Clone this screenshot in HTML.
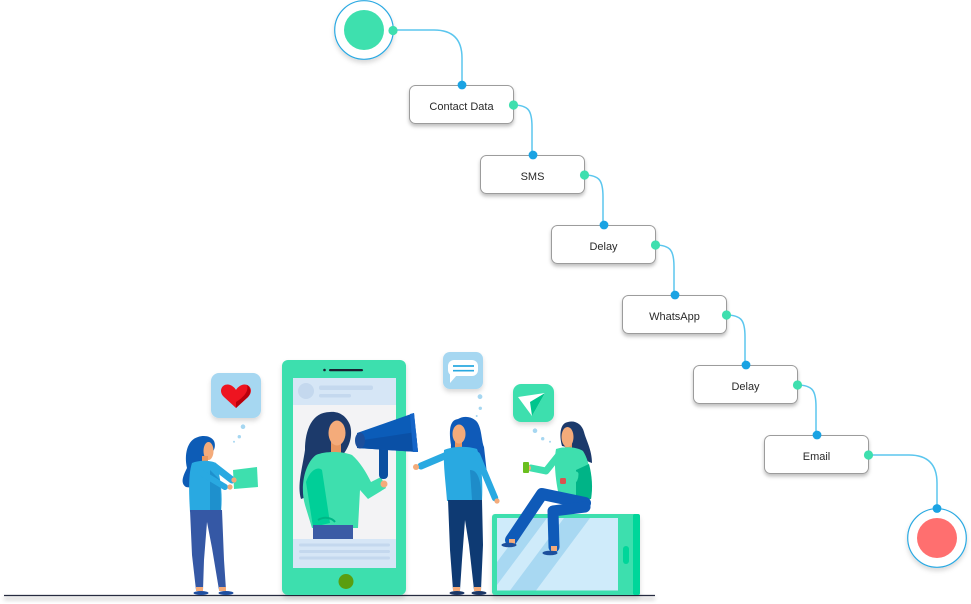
<!DOCTYPE html>
<html><head><meta charset="utf-8"><style>
html,body{margin:0;padding:0;background:#fff;}
svg{display:block;}
text{font-family:"Liberation Sans","DejaVu Sans",sans-serif;}
</style></head><body>
<svg width="971" height="604" viewBox="0 0 971 604" xmlns="http://www.w3.org/2000/svg">
<defs>
<filter id="sh" x="-30%" y="-30%" width="160%" height="180%">
<feDropShadow dx="0" dy="2.5" stdDeviation="1.8" flood-color="#000" flood-opacity="0.25"/>
</filter>
<filter id="sh2" x="-30%" y="-30%" width="160%" height="160%">
<feDropShadow dx="0" dy="3" stdDeviation="2.5" flood-color="#000" flood-opacity="0.15"/>
</filter>
<filter id="gblur" x="-5%" y="-200%" width="110%" height="500%">
<feGaussianBlur stdDeviation="2"/>
</filter>
</defs>

<!-- connectors -->
<g fill="none" stroke="#5BC6EE" stroke-width="1.5">
<path d="M393,30 H434 Q462,30 462,58 V85"/>
<path d="M513,105 C529,105 532,111 532,127 V155"/>
<path d="M584,175 C600,175 603,181 603,197 V225"/>
<path d="M655,245 C671,245 674,251 674,267 V295"/>
<path d="M726,315 C742,315 745,321 745,337 V365"/>
<path d="M797,385 C813,385 816,391 816,407 V435"/>
<path d="M868,455 H909 Q937,455 937,483 V508"/>
</g>

<!-- start circle -->
<circle cx="364" cy="30" r="29.3" fill="#fff" stroke="#2AA9E2" stroke-width="1.2" filter="url(#sh2)"/>
<circle cx="364" cy="30" r="20" fill="#3EE0AE"/>
<circle cx="393" cy="30.5" r="4.6" fill="#3EDFAE"/>

<!-- end circle -->
<circle cx="937" cy="538" r="29.3" fill="#fff" stroke="#2AA9E2" stroke-width="1.2" filter="url(#sh2)"/>
<circle cx="937" cy="538" r="20" fill="#FF6F6F"/>
<circle cx="937" cy="508.5" r="4.4" fill="#1AA3E3"/>

<!-- nodes -->
<g>
<rect x="409.5" y="85.5" width="104" height="38" rx="6" fill="#fff" stroke="#9c9c9c" stroke-width="1" filter="url(#sh)"/>
<text x="461.5" y="110" font-size="11" fill="#2a2a2a" text-anchor="middle">Contact Data</text>
<circle cx="462" cy="85" r="4.4" fill="#1AA3E3"/><circle cx="513.5" cy="105" r="4.6" fill="#3EDFAE"/>

<rect x="480.5" y="155.5" width="104" height="38" rx="6" fill="#fff" stroke="#9c9c9c" stroke-width="1" filter="url(#sh)"/>
<text x="532.5" y="180" font-size="11" fill="#2a2a2a" text-anchor="middle">SMS</text>
<circle cx="533" cy="155" r="4.4" fill="#1AA3E3"/><circle cx="584.5" cy="175" r="4.6" fill="#3EDFAE"/>

<rect x="551.5" y="225.5" width="104" height="38" rx="6" fill="#fff" stroke="#9c9c9c" stroke-width="1" filter="url(#sh)"/>
<text x="603.5" y="250" font-size="11" fill="#2a2a2a" text-anchor="middle">Delay</text>
<circle cx="604" cy="225" r="4.4" fill="#1AA3E3"/><circle cx="655.5" cy="245" r="4.6" fill="#3EDFAE"/>

<rect x="622.5" y="295.5" width="104" height="38" rx="6" fill="#fff" stroke="#9c9c9c" stroke-width="1" filter="url(#sh)"/>
<text x="674.5" y="320" font-size="11" fill="#2a2a2a" text-anchor="middle">WhatsApp</text>
<circle cx="675" cy="295" r="4.4" fill="#1AA3E3"/><circle cx="726.5" cy="315" r="4.6" fill="#3EDFAE"/>

<rect x="693.5" y="365.5" width="104" height="38" rx="6" fill="#fff" stroke="#9c9c9c" stroke-width="1" filter="url(#sh)"/>
<text x="745.5" y="390" font-size="11" fill="#2a2a2a" text-anchor="middle">Delay</text>
<circle cx="746" cy="365" r="4.4" fill="#1AA3E3"/><circle cx="797.5" cy="385" r="4.6" fill="#3EDFAE"/>

<rect x="764.5" y="435.5" width="104" height="38" rx="6" fill="#fff" stroke="#9c9c9c" stroke-width="1" filter="url(#sh)"/>
<text x="816.5" y="460" font-size="11" fill="#2a2a2a" text-anchor="middle">Email</text>
<circle cx="817" cy="435" r="4.4" fill="#1AA3E3"/><circle cx="868.5" cy="455" r="4.6" fill="#3EDFAE"/>
</g>

<!-- ground -->
<rect x="4" y="597" width="651" height="3" fill="#000" opacity="0.18" filter="url(#gblur)"/>
<line x1="4" y1="595.5" x2="655" y2="595.5" stroke="#262b40" stroke-width="1.2"/>

<!-- phone -->
<rect x="282" y="360" width="124" height="235" rx="6" fill="#3EDFAE" filter="url(#sh2)"/>
<rect x="293" y="378" width="103" height="190" fill="#F3F3F5"/>
<rect x="293" y="378" width="103" height="27" fill="#D6E6F6"/>
<circle cx="306" cy="391" r="8" fill="#C4D8EE"/>
<rect x="319" y="385.5" width="54" height="4.5" rx="2" fill="#C4D8EE"/>
<rect x="319" y="394" width="32" height="3.5" rx="1.7" fill="#C4D8EE"/>
<rect x="293" y="539" width="103" height="29" fill="#D6E6F6"/>
<rect x="299" y="543.5" width="91" height="3" rx="1.5" fill="#C4D8EE"/>
<rect x="299" y="550" width="91" height="3" rx="1.5" fill="#C4D8EE"/>
<rect x="299" y="556.5" width="91" height="3" rx="1.5" fill="#C4D8EE"/>
<circle cx="324.5" cy="370" r="1.3" fill="#1a2030"/>
<rect x="329" y="369" width="34" height="2.2" rx="1.1" fill="#1a2030"/>
<circle cx="346" cy="581.5" r="7.5" fill="#5A9E10"/>

<!-- megaphone woman -->
<path d="M330,412 C312,412 305,430 305,450 C302,470 297,485 301,499 L314,494 L340,458 C350,448 353,435 350,425 C346,415 338,411 330,412 Z" fill="#1C3A6B"/>
<rect x="331" y="442" width="10" height="14" fill="#E8965F"/>
<ellipse cx="337" cy="433" rx="8.5" ry="12.5" fill="#F4AB7A"/>
<path d="M316,455 C325,451 342,451 352,455 C360,462 366,472 371,482 L381,477 L386,488 L368,499 L360,490 L358,528 L312,528 L305,505 C300,488 304,464 316,455 Z" fill="#3EDFAE"/>
<path d="M306,482 C310,470 318,466 322,470 L330,523 L313,527 Z" fill="#00CF98"/>
<path d="M318,520 C325,516 332,518 335,522" stroke="#00B686" stroke-width="2" fill="none"/>
<rect x="313" y="525" width="40" height="14" fill="#3B5BA5"/>
<circle cx="384" cy="484" r="3.5" fill="#F4AB7A"/>
<rect x="379" y="444" width="9" height="35" rx="4" fill="#0B4FA0"/>
<polygon points="357,433 414,413 418,452 357,448" fill="#0B5CB8"/>
<polygon points="357,441 416,432 418,452 357,448" fill="#0A50A6"/>
<ellipse cx="360" cy="440.5" rx="5" ry="8" fill="#1C4F9C"/>
<polygon points="410,414 414,413 418,452 413,452" fill="#1565C8"/>

<!-- heart bubble -->
<rect x="211" y="373" width="50" height="45" rx="8" fill="#A6D7F1" filter="url(#sh2)"/>
<path d="M236,408 L224,397 C218,391 222,384 228,384.5 C232,385 235,388 236,390 C237,388 240,385 244,384.5 C250,384 254,391 248,397 Z" fill="#EE1420"/>
<path d="M236,408 L248,397 C252,392 250,387 247,385 C249,391 244,397 236,402 Z" fill="#B8000C"/>
<circle cx="243" cy="426.7" r="2.3" fill="#A6D7F1"/>
<circle cx="239.3" cy="436.7" r="1.7" fill="#A6D7F1"/>
<circle cx="234" cy="441.7" r="1" fill="#A6D7F1"/>

<!-- left woman -->
<path d="M198,437 C187,440 184,455 187,468 C183,476 180,483 186,487 C195,489 201,481 205,476 L206,458 C212,455 217,448 214,441 C211,436 204,435 198,437 Z" fill="#0D5CB6"/>
<ellipse cx="208.5" cy="451" rx="5" ry="9" fill="#F4AB7A"/>
<rect x="202" y="456" width="6" height="8" fill="#E8965F"/>
<path d="M192,463 C199,460 210,460 216,463 C220,475 223,492 221,512 L190,512 C189,495 188,475 192,463 Z" fill="#29A9E1"/>
<path d="M210,470 L220,480 L221,512 L210,512 Z" fill="#1E90CD"/>
<path d="M214,466 L232,480" stroke="#29A9E1" stroke-width="7" stroke-linecap="round"/>
<path d="M200,472 L225,487" stroke="#29A9E1" stroke-width="6" stroke-linecap="round"/>
<polygon points="233,470 257,467 258,487 234,489" fill="#3EDFAE"/>
<circle cx="234" cy="480" r="2.6" fill="#F4AB7A"/>
<circle cx="230" cy="487" r="2.6" fill="#F4AB7A"/>
<path d="M190,510 L222,510 L224,560 L226,590 L219,590 L212,548 L207,522 L204,560 L203,590 L196,590 L192,555 Z" fill="#3558A5"/>
<rect x="196" y="587" width="7" height="4" fill="#F4AB7A"/>
<rect x="219" y="587" width="7" height="4" fill="#F4AB7A"/>
<ellipse cx="201" cy="593" rx="7.5" ry="2" fill="#1F4FA0"/>
<ellipse cx="226" cy="593" rx="7.5" ry="2" fill="#1F4FA0"/>

<!-- chat bubble -->
<rect x="443" y="352" width="40" height="37" rx="7" fill="#A6D7F1" filter="url(#sh2)"/>
<rect x="448" y="360" width="30" height="16" rx="6" fill="#fff"/>
<polygon points="450,372 457,375 450,383" fill="#fff"/>
<line x1="453" y1="366" x2="474" y2="366" stroke="#29A9E1" stroke-width="1.7"/>
<line x1="453" y1="370.7" x2="474" y2="370.7" stroke="#29A9E1" stroke-width="1.7"/>
<circle cx="480" cy="396.7" r="2.4" fill="#A6D7F1"/>
<circle cx="480.3" cy="408.3" r="1.7" fill="#A6D7F1"/>
<circle cx="476.7" cy="416" r="1" fill="#A6D7F1"/>

<!-- standing woman -->
<path d="M458,419 C449,420 449,432 451,445 C450,453 455,452 460,448 L478,455 C482,462 485,470 487,474 L484,447 C481,440 482,425 475,420 C470,416 463,416 458,419 Z" fill="#0F5AB8"/>
<rect x="455" y="440" width="7" height="10" fill="#E8965F"/>
<ellipse cx="459" cy="434" rx="6.5" ry="9.5" fill="#F4AB7A"/>
<path d="M444,450 C453,446 468,446 477,449 C482,462 483,485 482,501 L447,501 C446,485 443,465 444,450 Z" fill="#29A9E1"/>
<path d="M470,470 C478,470 481,480 482,501 L472,500 Z" fill="#1E8CC9"/>
<path d="M447,455 L421,466" stroke="#29A9E1" stroke-width="7" stroke-linecap="round"/>
<path d="M477,455 L495,498" stroke="#29A9E1" stroke-width="6.5" stroke-linecap="round"/>
<circle cx="416" cy="467" r="3" fill="#F4AB7A"/>
<circle cx="497" cy="501" r="2.6" fill="#F4AB7A"/>
<path d="M448,500 L482,500 L483,545 L481,590 L474,590 L469,545 L465,520 L462,560 L460,590 L453,590 L450,550 Z" fill="#0E3A73"/>
<rect x="453" y="587" width="7" height="4" fill="#F4AB7A"/>
<rect x="474" y="587" width="7" height="4" fill="#F4AB7A"/>
<ellipse cx="457" cy="593" rx="7.5" ry="2" fill="#1C3766"/>
<ellipse cx="479" cy="593" rx="7.5" ry="2" fill="#1C3766"/>

<!-- send bubble -->
<rect x="513" y="384" width="41" height="38" rx="8" fill="#3EDFAE" filter="url(#sh2)"/>
<polygon points="518,397 545,393 532,416" fill="#fff"/>
<polygon points="530,402 545,393 532,416" fill="#00C58D"/>
<circle cx="535" cy="430.7" r="2.3" fill="#A6D7F1"/>
<circle cx="542.7" cy="438.7" r="1.7" fill="#A6D7F1"/>
<circle cx="550" cy="441.7" r="1" fill="#A6D7F1"/>

<!-- tablet -->
<rect x="492" y="514" width="148" height="81" rx="3" fill="#3EDFAE" filter="url(#sh2)"/>
<rect x="633" y="514" width="7" height="81" rx="2" fill="#00D69A"/>
<rect x="497" y="518" width="121" height="72.5" fill="#CFEBFA"/>
<polygon points="497,562 530,518 547,518 497,585" fill="#A8D8F2"/>
<polygon points="510,590.5 564,518 590,518 536,590.5" fill="#A8D8F2"/>
<rect x="623" y="546" width="6" height="18" rx="3" fill="#00D69A"/>

<!-- sitting woman -->
<path d="M568,422 C560,423 559,435 562,446 L575,449 C580,456 585,461 592,463 C592,450 586,440 584,432 C582,424 575,420 568,422 Z" fill="#1C3A6B"/>
<rect x="565" y="443" width="7" height="9" fill="#E8965F"/>
<ellipse cx="567.5" cy="437" rx="6" ry="10" fill="#F4AB7A"/>
<path d="M556,449 C565,446 577,447 583,451 C590,462 593,482 591,499 L560,501 C557,488 553,466 556,449 Z" fill="#3EDFAE"/>
<path d="M576,470 L589,464 C592,475 593,488 591,499 L576,500 Z" fill="#00B487"/>
<path d="M558,456 L546,471 L531,468" stroke="#3EDFAE" stroke-width="7" stroke-linecap="round" stroke-linejoin="round" fill="none"/>
<circle cx="528" cy="468" r="3" fill="#F4AB7A"/>
<rect x="523" y="462" width="6" height="11" rx="1" fill="#6ABF1E"/>
<path d="M576,474 C576,482 571,485 563,482" stroke="#3EDFAE" stroke-width="5" stroke-linecap="round" fill="none"/>
<rect x="560" y="478" width="6" height="6" rx="1.5" fill="#D9534F"/>
<path d="M585,503 L542,494 L511,540" stroke="#0F5AB8" stroke-width="12" stroke-linecap="round" stroke-linejoin="round" fill="none"/>
<path d="M585,507 L553,511 L554,547" stroke="#0F5AB8" stroke-width="11" stroke-linecap="round" stroke-linejoin="round" fill="none"/>
<rect x="509" y="539" width="6" height="5" fill="#F4AB7A"/>
<rect x="551" y="546" width="6" height="5" fill="#F4AB7A"/>
<ellipse cx="509" cy="545" rx="7.5" ry="2.3" fill="#1C4F9C"/>
<ellipse cx="550" cy="553" rx="7.5" ry="2.3" fill="#1C4F9C"/>
</svg>
</body></html>
